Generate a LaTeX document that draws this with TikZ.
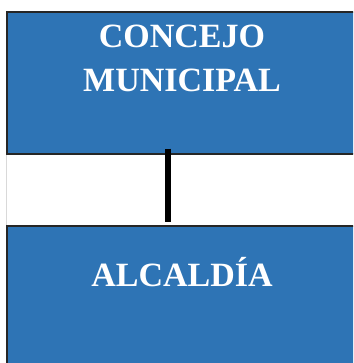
\documentclass[tikz,border=0pt]{standalone}
\usepackage{fontspec}
\setmainfont{Liberation Serif}
\usetikzlibrary{positioning}
\definecolor{orgblue}{HTML}{2E74B5}

\begin{document}
\begin{tikzpicture}[x=1pt,y=1pt,
  box/.style={draw=black!85,line width=1.5pt,fill=orgblue,minimum width=360pt,inner sep=0pt},
  txt/.style={text=white,font=\fontsize{34}{44}\selectfont\bfseries,align=center,inner sep=0pt},
  link/.style={line width=6pt,black}]
\clip (0,0) rectangle (353,363);
\fill[white] (0,0) rectangle (353,363);
\node[box,minimum height=142pt] (concejo) at (187,280) {};
\node[box,minimum height=152pt] (alcaldia) at (187,61) {};
\node[txt,anchor=base] (concejotxt) at (182,271) {CONCEJO\\MUNICIPAL};
\node[txt,anchor=base] (alcaldiatxt) at (182,76) {ALCALDÍA};
\draw[black!15,line width=1.5pt] (concejo.south west)--(alcaldia.north west);
\draw[link]([xshift=-19pt,yshift=6pt]concejo.south)--([xshift=-19pt,yshift=3pt]alcaldia.north);
\end{tikzpicture}
\end{document}
